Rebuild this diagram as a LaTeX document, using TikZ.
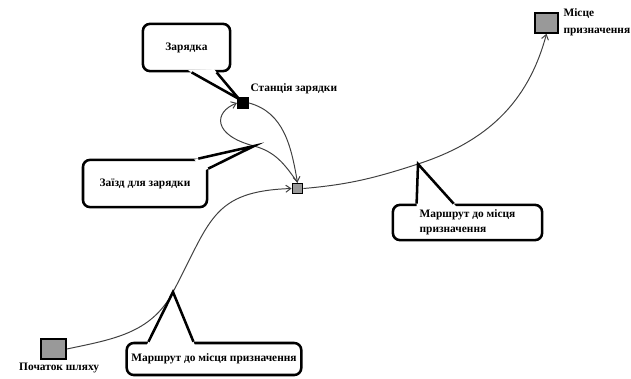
\documentclass[tikz,border=0pt]{standalone}
\usepackage{fontspec}
\setmainfont{Liberation Serif}
\usetikzlibrary{arrows.meta,positioning,calc}
\tikzset{
  spot/.style={draw, line width=1.1pt, fill=black!40, inner sep=0pt},
  lbl/.style={inner sep=1pt, font=\fontsize{8.1}{11}\selectfont\bfseries},
  callout/.style={draw, line width=1.8pt, rounded corners=5pt, fill=white,
                  align=left, font=\fontsize{8.1}{11}\selectfont\bfseries},
  pointer/.style={line width=1.8pt},
  route/.style={draw=black!75, line width=0.7pt},
  arrow/.style={route, -{Straight Barb[length=3.5pt,width=5pt]}}
}

\begin{document}
\begin{tikzpicture}[x=0.025cm, y=0.025cm]
  \useasboundingbox (0,0) rectangle (631,378);
  % points of the route
  \node[spot, minimum width=0.63cm, minimum height=0.5cm] (start) at (53.5,29) {};
  \node[spot, minimum width=0.58cm, minimum height=0.5cm] (dest) at (546.5,355) {};
  \node[spot, minimum size=0.27cm, line width=0.8pt] (mid) at (297.5,189.5) {};
  \node[spot, fill=black, minimum size=0.27cm, line width=0.8pt] (station) at (243,275) {};
  \node[lbl, below=1pt of start, xshift=4pt] (startlbl) {Початок шляху};
  \node[lbl, align=left, anchor=north west] (destlbl) at ($(dest.north east)+(3,5)$) {Місце\\[1pt]призначення};
  \node[lbl, above right=1pt and 0pt of station] (stationlbl) {Станція зарядки};
  % tips of the callouts
  \coordinate (tipA) at (173,86);
  \coordinate (tipR) at (418,214);
  \coordinate (tipL) at (254,232);
  \coordinate (tipZ) at (239,279);
  % routes
  \draw[arrow] (start.east) to[out=12, in=242] (tipA) to[out=62, in=182, looseness=1.3] (mid.west);
  \draw[arrow] (mid.east) to[out=5, in=198] (tipR) to[out=18, in=255] (dest.south);
  \draw[arrow] (station.east) to[out=-15, in=100] (mid.north);
  \draw[arrow] (mid.north) to[out=125, in=-15] (tipL) .. controls (212,243) and (214,266) .. (station.west);
  % callouts
  \node[callout, minimum width=2.18cm, minimum height=1.18cm] (zar) at (186.5,330.5) {Зарядка};
  \node[callout, minimum width=3.1cm, minimum height=1.18cm] (zaizd) at (145,194.5) {Заїзд для зарядки};
  \node[callout, minimum width=3.73cm, minimum height=0.88cm] (routeR) at (467.5,155.5) {Маршрут до місця\\призначення};
  \node[callout, minimum width=4.1cm, minimum height=0.8cm] (routeB) at (214,19) {Маршрут до місця призначення};
  \coordinate (zarA) at ($(zar.south west)+(50,0)$);
  \coordinate (zarB) at ($(zar.south west)+(75,0)$);
  \coordinate (zaizdA) at ($(zaizd.north east)+(-10,0)$);
  \coordinate (zaizdB) at ($(zaizd.north east)+(0,-10)$);
  \coordinate (routeRA) at ($(routeR.north west)+(25,0)$);
  \coordinate (routeRB) at ($(routeR.north west)+(62,0)$);
  \coordinate (routeBA) at ($(routeB.north west)+(23,0)$);
  \coordinate (routeBB) at ($(routeB.north west)+(68,0)$);
  \foreach \a/\b/\t in {zarA/zarB/tipZ, zaizdA/zaizdB/tipL, routeRA/routeRB/tipR, routeBA/routeBB/tipA} {
    \fill[white] ($(\a)!-3pt!(\t)$) -- (\t) -- ($(\b)!-3pt!(\t)$) -- cycle;
    \draw[pointer] (\a) -- (\t) -- (\b);
  }
\end{tikzpicture}
\end{document}
